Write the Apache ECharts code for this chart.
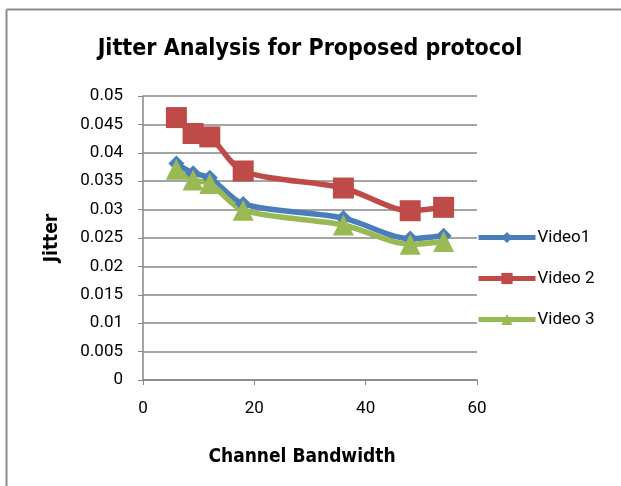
<!DOCTYPE html>
<html><head><meta charset="utf-8">
<script src="https://cdn.jsdelivr.net/npm/echarts@6/dist/echarts.min.js"></script>
<style>html,body{margin:0;padding:0;background:#fff}#c{width:621px;height:486px}</style>
</head><body><div id="c"></div>
<script>
const bandwidth = [6, 9, 12, 18, 36, 48, 54];
const video1 = [0.0381, 0.0364, 0.0356, 0.0310, 0.0285, 0.0249, 0.0254];
const video2 = [0.0462, 0.0434, 0.0428, 0.0368, 0.0338, 0.0298, 0.0304];
const video3 = [0.0371, 0.0352, 0.0346, 0.0299, 0.0273, 0.0239, 0.0244];
const seriesNames = ['Video1', 'Video 2', 'Video 3'];

const pair = (xs, ys) => xs.map((x, i) => [x, ys[i]]);
const chart = echarts.init(document.getElementById('c'));
const axisColor = '#868686';
const labelFont = 'Roboto, "Noto Sans", sans-serif';
const boldFont = '"DejaVu Sans Condensed", "Liberation Sans Narrow", Roboto, sans-serif';
chart.setOption({
  animation: false,
  title: {
    text: 'Jitter Analysis for Proposed protocol',
    left: 305, top: 33, textAlign: 'center',
    textStyle: { fontFamily: boldFont, fontWeight: 'bold', fontSize: 23, color: '#000' }
  },
  graphic: [
    { type: 'line', shape: { x1: 6.5, y1: 9.5, x2: 621, y2: 9.5 }, style: { stroke: '#8c8c8c', lineWidth: 2 } },
    { type: 'line', shape: { x1: 6.5, y1: 9.5, x2: 6.5, y2: 486 }, style: { stroke: '#8c8c8c', lineWidth: 2 } }
  ],
  legend: {
    orient: 'vertical', left: 476, top: 229, padding: 0,
    itemWidth: 57, itemHeight: 14, itemGap: 24,
    lineStyle: { width: 5 },
    textStyle: { fontFamily: labelFont, fontSize: 17, color: '#000', padding: [0, 0, 0, -3] },
    data: seriesNames
  },
  grid: { left: 143, top: 96, width: 334, height: 284 },
  xAxis: {
    type: 'value', min: 0, max: 60, interval: 20,
    name: 'Channel Bandwidth', nameLocation: 'middle', nameGap: 68,
    nameTextStyle: { fontFamily: boldFont, fontWeight: 'bold', fontSize: 19, color: '#000', padding: [0, 16, 0, 0] },
    axisLine: { lineStyle: { color: axisColor, width: 1.5 } },
    axisTick: { show: true, length: 5, lineStyle: { color: axisColor } },
    axisLabel: { fontFamily: labelFont, fontSize: 17, color: '#000', margin: 20 },
    splitLine: { show: false }
  },
  yAxis: {
    type: 'value', min: 0, max: 0.05, interval: 0.005,
    name: 'Jitter', nameLocation: 'middle', nameGap: 81, nameRotate: 90,
    nameTextStyle: { fontFamily: boldFont, fontWeight: 'bold', fontSize: 19, color: '#000' },
    axisLine: { show: true, lineStyle: { color: axisColor, width: 1.5 } },
    axisTick: { show: true, length: 5, lineStyle: { color: axisColor } },
    axisLabel: { fontFamily: labelFont, fontSize: 17, color: '#000', margin: 20 },
    splitLine: { show: true, lineStyle: { color: axisColor, width: 1.5 } }
  },
  series: [
    { name: seriesNames[0], type: 'line', smooth: 0.3, data: pair(bandwidth, video1),
      symbol: 'diamond', symbolSize: 16, color: '#4a7ebb', lineStyle: { width: 5.5 } },
    { name: seriesNames[1], type: 'line', smooth: 0.3, data: pair(bandwidth, video2),
      symbol: 'rect', symbolSize: 21, color: '#be4b48', lineStyle: { width: 5.5 } },
    { name: seriesNames[2], type: 'line', smooth: 0.3, data: pair(bandwidth, video3),
      symbol: 'triangle', symbolSize: 21, color: '#98b954', lineStyle: { width: 5.5 } }
  ]
});
</script></body></html>
